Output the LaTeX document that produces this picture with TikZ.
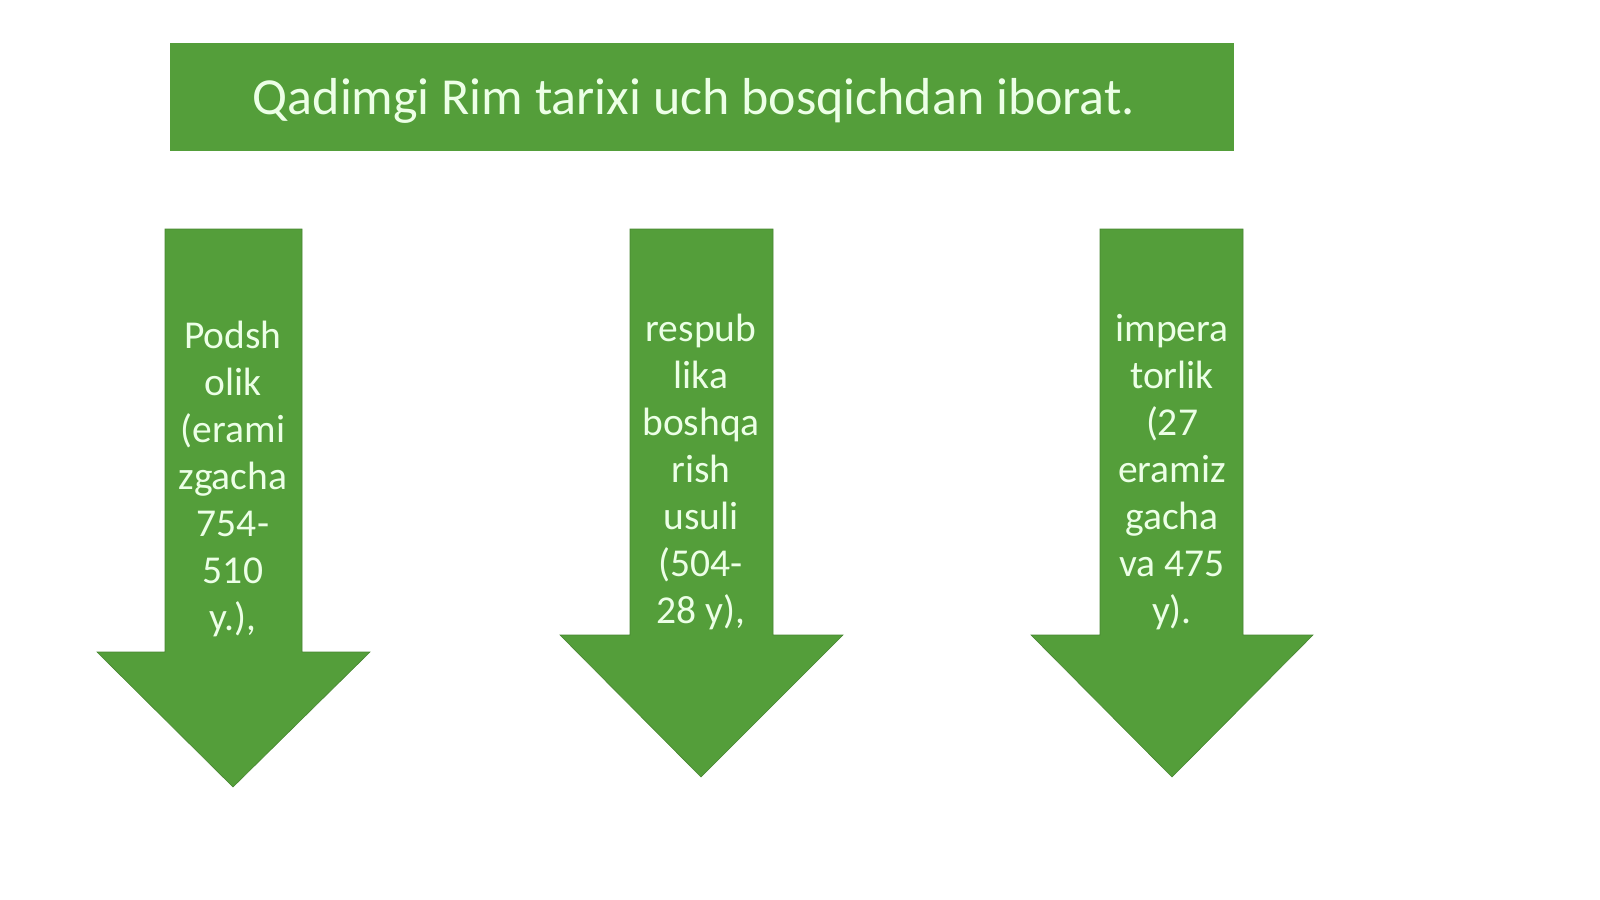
\documentclass[tikz,border=0pt]{standalone}
\usepackage{fontspec}
\setmainfont{Carlito}
\definecolor{grn}{RGB}{84,158,58}
\definecolor{txt}{RGB}{236,255,230}
\begin{document}
\begin{tikzpicture}[x=1pt,y=-1pt,
  shape fill/.style={fill=grn,draw=grn!85!black,line width=0.6pt},
  lbl/.style={text=txt,align=center,inner sep=0pt,font=\fontsize{39.5}{47}\selectfont}]
\useasboundingbox[fill=white] (0,0) rectangle (1600,899);
% banner
\fill[grn] (170,43) rectangle (1234,151);
\node[text=txt,font=\fontsize{52}{60}\selectfont,inner sep=0pt] (title) at (694,101) {Qadimgi Rim tarixi uch bosqichdan iborat.};
% arrow 1
\path[shape fill] (165,229) -- (302,229) -- (302,652) -- (370,652) -- (233,787) -- (97,652) -- (165,652) -- cycle;
\node[lbl] (a1) at (233,479) {Podsh\\olik\\(erami\\zgacha\\754-\\510\\y.),};
% arrow 2
\path[shape fill] (630,229) -- (773,229) -- (773,635) -- (843,635) -- (701,777) -- (560,635) -- (630,635) -- cycle;
\node[lbl] (a2) at (701,472) {respub\\lika\\boshqa\\rish\\usuli\\(504-\\28 y),};
% arrow 3
\path[shape fill] (1100,229) -- (1243,229) -- (1243,635) -- (1313,635) -- (1172,777) -- (1031,635) -- (1100,635) -- cycle;
\node[lbl] (a3) at (1172,472) {impera\\torlik\\(27\\eramiz\\gacha\\va 475\\y).};
\end{tikzpicture}
\end{document}
